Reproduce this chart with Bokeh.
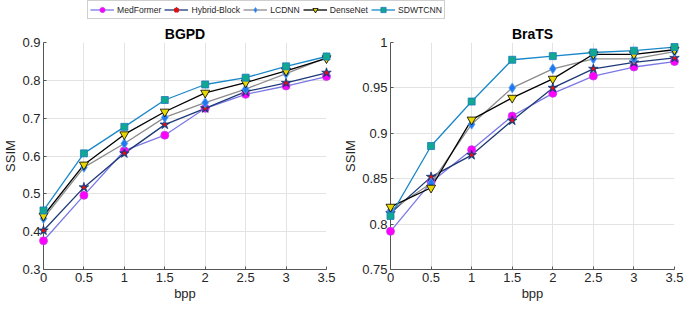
from bokeh.plotting import figure
from bokeh.models import FixedTicker, Legend, LegendItem, Range1d
from bokeh.layouts import column, row
from bokeh.embed import file_html
from bokeh.resources import INLINE

bpp = [0, 0.5, 1, 1.5, 2, 2.5, 3, 3.5]
x_ticks = [0, 0.5, 1, 1.5, 2, 2.5, 3, 3.5]
x_tick_labels = ["0", "0.5", "1", "1.5", "2", "2.5", "3", "3.5"]

methods = ["MedFormer", "Hybrid-Block", "LCDNN", "DenseNet", "SDWTCNN"]

bgpd = {
    "MedFormer":    [0.376, 0.496, 0.614, 0.655, 0.726, 0.763, 0.785, 0.810],
    "Hybrid-Block": [0.403, 0.517, 0.607, 0.683, 0.726, 0.770, 0.793, 0.820],
    "LCDNN":        [0.435, 0.570, 0.633, 0.702, 0.741, 0.777, 0.818, 0.860],
    "DenseNet":     [0.442, 0.577, 0.657, 0.717, 0.767, 0.794, 0.825, 0.858],
    "SDWTCNN":      [0.456, 0.607, 0.677, 0.748, 0.789, 0.807, 0.837, 0.863],
}
bgpd_y_ticks = [0.3, 0.4, 0.5, 0.6, 0.7, 0.8, 0.9]
bgpd_y_labels = ["0.3", "0.4", "0.5", "0.6", "0.7", "0.8", "0.9"]

brats = {
    "MedFormer":    [0.792, 0.846, 0.882, 0.919, 0.944, 0.963, 0.973, 0.979],
    "Hybrid-Block": [0.812, 0.852, 0.876, 0.914, 0.950, 0.971, 0.978, 0.983],
    "LCDNN":        [0.815, 0.845, 0.910, 0.950, 0.971, 0.982, 0.982, 0.990],
    "DenseNet":     [0.819, 0.840, 0.915, 0.939, 0.960, 0.987, 0.987, 0.992],
    "SDWTCNN":      [0.809, 0.886, 0.935, 0.981, 0.985, 0.989, 0.991, 0.995],
}
brats_y_ticks = [0.75, 0.8, 0.85, 0.9, 0.95, 1.0]
brats_y_labels = ["0.75", "0.8", "0.85", "0.9", "0.95", "1"]

styles = {
    "MedFormer":    dict(line="#7b78e6", marker="circle", fill="#ff00ff", edge="#c040e0", size=8),
    "Hybrid-Block": dict(line="#1c3a78", marker="star", fill="#1c3a78", edge="#1c3a78", size=10),
    "LCDNN":        dict(line="#8c8c8c", marker="diamond", fill="#1e78f0", edge="#5aa0f0", size=10),
    "DenseNet":     dict(line="#000000", marker="inverted_triangle", fill="#e8d800", edge="#000000", size=9),
    "SDWTCNN":      dict(line="#1a88c8", marker="square", fill="#10a890", edge="#1a78c0", size=7),
}

FONT = "Liberation Sans"


def add_series(p, xs, ys, s, size_adj=0, level="glyph"):
    r1 = p.line(xs, ys, line_color=s["line"], line_width=1.3)
    r2 = p.scatter(xs, ys, marker=s["marker"], size=s["size"] + size_adj,
                   fill_color=s["fill"], line_color=s["edge"], line_width=0.8, level=level)
    rs = [r1, r2]
    if s["marker"] == "star":
        r3 = p.scatter(xs, ys, marker="circle", size=3.5 + size_adj * 0.5,
                       fill_color="#e01010", line_color=None, level=level)
        rs.append(r3)
    return rs


def make_panel(title, data, yr, yticks, ylabels, left_border, fw, right_border):
    p = figure(output_backend="svg", toolbar_location=None,
               frame_width=fw, frame_height=227,
               min_border_left=left_border, min_border_right=right_border,
               min_border_top=2, min_border_bottom=2,
               x_range=Range1d(0, 3.5), y_range=Range1d(*yr),
               title=title)
    p.title.text_font = FONT
    p.title.text_font_size = "14px"
    p.title.text_font_style = "bold"
    p.title.text_color = "#000000"
    p.title.align = "center"
    p.title.standoff = 2
    p.title.offset = 0
    p.outline_line_color = None
    for ax, ticks, labels, lab in ((p.xaxis[0], x_ticks, x_tick_labels, "bpp"),
                                   (p.yaxis[0], yticks, ylabels, "SSIM")):
        ax.ticker = FixedTicker(ticks=ticks)
        ax.major_label_overrides = {t: l for t, l in zip(ticks, labels)}
        ax.axis_label = lab
        ax.axis_label_text_font = FONT
        ax.axis_label_text_font_size = "13px"
        ax.axis_label_text_font_style = "normal"
        ax.axis_label_text_color = "#262626"
        ax.major_label_text_font = FONT
        ax.major_label_text_font_size = "13px"
        ax.major_label_text_color = "#262626"
        ax.axis_line_color = "#555555"
        ax.major_tick_line_color = "#555555"
        ax.major_tick_in = 3
        ax.major_tick_out = 0
        ax.minor_tick_line_color = None
        ax.major_label_standoff = 3
        ax.axis_label_standoff = 1
    for g in (p.xgrid[0], p.ygrid[0]):
        g.grid_line_color = "#e3e3e3"
        g.grid_line_width = 1
    for m in methods:
        add_series(p, bpp, data[m], styles[m], level="overlay")
    return p


p1 = make_panel("BGPD", bgpd, (0.3, 0.9), bgpd_y_ticks, bgpd_y_labels, 40, 283, 14)
p2 = make_panel("BraTS", brats, (0.75, 1.0), brats_y_ticks, brats_y_labels, 50, 284, 10)

# legend strip
lg = figure(output_backend="svg", toolbar_location=None, width=685, height=22,
            min_border=0, x_range=Range1d(0, 1), y_range=Range1d(0, 1))
lg.axis.visible = False
lg.grid.visible = False
lg.outline_line_color = None
items = []
for m in methods:
    rs = add_series(lg, [-10, -11], [-10, -11], styles[m], size_adj=-1)
    items.append(LegendItem(label=m, renderers=rs))
leg = Legend(items=items, orientation="horizontal", location=(87, 3),
             label_text_font=FONT, label_text_font_size="8.6px",
             label_text_color="#262626",
             glyph_width=24, glyph_height=13, label_height=13, label_standoff=3,
             spacing=3, padding=2, margin=0,
             border_line_color="#a0a0a0", border_line_width=1,
             background_fill_color="white", background_fill_alpha=1)
lg.add_layout(leg, "center")

layout = column(lg, row(p1, p2))
open("out.html", "w").write(file_html(layout, INLINE))
